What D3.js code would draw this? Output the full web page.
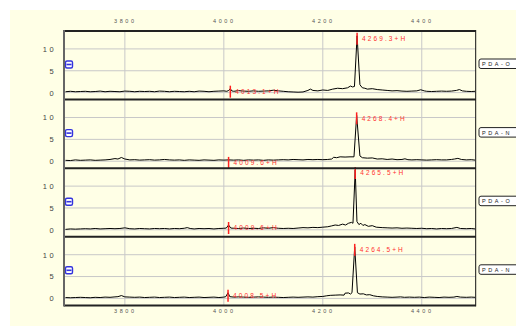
<!DOCTYPE html>
<html>
<head>
<meta charset="utf-8">
<script src="https://cdn.jsdelivr.net/npm/d3@7"></script>
<style>
  body { margin: 0; background: #fff; }
  text { font-family: "Liberation Sans", Arial, sans-serif; }
</style>
</head>
<body>
<div id="chart"></div>
<script>
// tick values
const massTicks = [3800, 4000, 4200, 4400];
const intensityTicks = [0, 5, 10];

// panel names shown in the boxes on the right
const panelNames = ['PDA-O', 'PDA-N', 'PDA-O', 'PDA-N'];

// spectra: [m/z, intensity]
const spectrum1 = [
  [3680, 0.2], [3690, 0.3], [3700, 0.2], [3710, 0.25], [3720, 0.3], [3730, 0.2], [3740, 0.25], [3750, 0.35],
  [3760, 0.2], [3770, 0.3], [3780, 0.25], [3790, 0.2], [3800, 0.35], [3810, 0.3], [3820, 0.2], [3830, 0.3],
  [3840, 0.25], [3850, 0.3], [3860, 0.2], [3870, 0.35], [3880, 0.3], [3890, 0.2], [3900, 0.3], [3910, 0.25],
  [3920, 0.2], [3930, 0.3], [3940, 0.2], [3950, 0.35], [3960, 0.3], [3970, 0.2], [3980, 0.3], [3990, 0.35],
  [4000, 0.4], [4006, 0.3], [4010, 0.5], [4013.1, 0.9], [4016, 0.4], [4020, 0.3], [4030, 0.45], [4040, 0.35],
  [4050, 0.3], [4060, 0.4], [4070, 0.3], [4080, 0.35], [4090, 0.4], [4100, 0.55], [4110, 0.4], [4120, 0.3],
  [4130, 0.2], [4140, 0.15], [4150, 0.1], [4160, 0.15], [4170, 0.5], [4175, 0.8], [4180, 0.5], [4190, 0.4],
  [4200, 0.6], [4210, 0.5], [4220, 0.8], [4230, 1.0], [4240, 0.9], [4250, 1.1], [4256, 1.5], [4260, 1.3],
  [4264, 1.4], [4269.3, 13.0], [4275, 1.8], [4280, 1.1], [4285, 1.0], [4290, 0.8], [4300, 0.9], [4310, 0.7],
  [4320, 0.6], [4330, 0.5], [4340, 0.4], [4350, 0.45], [4360, 0.35], [4370, 0.3], [4380, 0.35], [4390, 0.4],
  [4398, 0.65], [4405, 0.4], [4410, 0.3], [4420, 0.25], [4430, 0.3], [4440, 0.35], [4450, 0.3], [4460, 0.35],
  [4470, 0.5], [4476, 0.7], [4482, 0.4], [4490, 0.3], [4500, 0.25], [4508, 0.3],
];
const spectrum2 = [
  [3680, 0.2], [3690, 0.15], [3700, 0.3], [3710, 0.2], [3720, 0.25], [3730, 0.3], [3740, 0.2], [3750, 0.25],
  [3760, 0.3], [3770, 0.4], [3780, 0.6], [3786, 0.5], [3793, 0.85], [3800, 0.5], [3810, 0.3], [3820, 0.35],
  [3830, 0.25], [3840, 0.3], [3850, 0.35], [3860, 0.25], [3870, 0.3], [3880, 0.4], [3890, 0.3], [3900, 0.25],
  [3910, 0.3], [3920, 0.2], [3930, 0.3], [3940, 0.25], [3950, 0.2], [3960, 0.3], [3970, 0.25], [3980, 0.2],
  [3990, 0.3], [4000, 0.25], [4009.6, 0.3], [4020, 0.25], [4030, 0.3], [4040, 0.2], [4050, 0.3], [4060, 0.25],
  [4070, 0.3], [4080, 0.2], [4090, 0.3], [4100, 0.25], [4110, 0.3], [4120, 0.35], [4130, 0.3], [4140, 0.4],
  [4150, 0.35], [4160, 0.3], [4170, 0.4], [4180, 0.35], [4190, 0.4], [4200, 0.35], [4210, 0.4], [4218, 0.5],
  [4222, 0.9], [4228, 0.8], [4235, 1.0], [4245, 0.95], [4255, 1.0], [4263, 1.0], [4268.4, 10.5], [4275, 1.2],
  [4280, 0.8], [4290, 0.7], [4300, 0.75], [4310, 0.5], [4320, 0.55], [4330, 0.4], [4340, 0.5], [4350, 0.35],
  [4360, 0.4], [4366, 0.55], [4372, 0.35], [4380, 0.3], [4390, 0.35], [4400, 0.3], [4410, 0.25], [4420, 0.3],
  [4430, 0.35], [4440, 0.3], [4450, 0.3], [4460, 0.4], [4466, 0.5], [4473, 0.65], [4480, 0.4], [4490, 0.3],
  [4500, 0.35], [4508, 0.25],
];
const spectrum3 = [
  [3680, 0.1], [3690, 0.2], [3700, 0.15], [3710, 0.2], [3720, 0.25], [3730, 0.2], [3740, 0.3], [3750, 0.2],
  [3760, 0.25], [3770, 0.3], [3780, 0.25], [3790, 0.3], [3800, 0.45], [3810, 0.25], [3820, 0.2], [3830, 0.3],
  [3840, 0.25], [3850, 0.2], [3860, 0.3], [3870, 0.25], [3880, 0.3], [3890, 0.2], [3900, 0.3], [3910, 0.25],
  [3920, 0.35], [3926, 0.5], [3932, 0.3], [3940, 0.2], [3950, 0.3], [3960, 0.25], [3970, 0.3], [3980, 0.2],
  [3990, 0.3], [4000, 0.35], [4005, 0.4], [4009.6, 1.1], [4014, 0.4], [4020, 0.35], [4030, 0.3], [4040, 0.4],
  [4050, 0.3], [4060, 0.35], [4070, 0.3], [4080, 0.45], [4090, 0.35], [4100, 0.5], [4110, 0.35], [4120, 0.3],
  [4130, 0.35], [4140, 0.3], [4150, 0.4], [4160, 0.5], [4170, 0.45], [4180, 0.55], [4190, 0.5], [4200, 0.6],
  [4210, 0.7], [4218, 0.9], [4225, 1.1], [4232, 1.0], [4240, 1.3], [4246, 1.1], [4252, 1.5], [4258, 1.7],
  [4261, 1.5], [4265.5, 13.7], [4269, 1.9], [4273, 1.2], [4277, 1.5], [4281, 1.0], [4285, 1.2], [4292, 0.8],
  [4300, 0.95], [4308, 0.6], [4320, 0.5], [4330, 0.45], [4340, 0.4], [4350, 0.45], [4360, 0.35], [4370, 0.4],
  [4380, 0.35], [4390, 0.3], [4400, 0.35], [4410, 0.25], [4420, 0.3], [4430, 0.2], [4440, 0.3], [4450, 0.25],
  [4460, 0.3], [4471, 0.55], [4478, 0.3], [4490, 0.25], [4500, 0.3], [4508, 0.2],
];
const spectrum4 = [
  [3680, 0.2], [3690, 0.15], [3700, 0.2], [3710, 0.25], [3720, 0.2], [3730, 0.15], [3740, 0.25], [3750, 0.2],
  [3760, 0.3], [3770, 0.25], [3780, 0.35], [3786, 0.4], [3793, 0.65], [3800, 0.35], [3810, 0.3], [3820, 0.25],
  [3830, 0.3], [3840, 0.2], [3850, 0.25], [3860, 0.3], [3870, 0.2], [3880, 0.25], [3890, 0.3], [3900, 0.2],
  [3910, 0.25], [3920, 0.3], [3930, 0.2], [3940, 0.25], [3950, 0.3], [3960, 0.2], [3970, 0.25], [3980, 0.3],
  [3990, 0.2], [4000, 0.3], [4004, 0.4], [4008.5, 1.3], [4012, 0.4], [4020, 0.3], [4030, 0.35], [4040, 0.3],
  [4050, 0.25], [4060, 0.3], [4070, 0.35], [4080, 0.3], [4090, 0.25], [4100, 0.3], [4110, 0.25], [4120, 0.2],
  [4130, 0.25], [4140, 0.3], [4150, 0.25], [4160, 0.3], [4170, 0.35], [4180, 0.3], [4190, 0.4], [4200, 0.45],
  [4208, 0.6], [4215, 0.7], [4225, 0.75], [4235, 0.8], [4243, 0.75], [4245, 1.2], [4252, 1.25], [4256, 1.0],
  [4259, 1.3], [4264.5, 11.8], [4270, 1.3], [4275, 1.0], [4282, 1.05], [4288, 0.8], [4295, 0.85], [4302, 0.6],
  [4310, 0.45], [4320, 0.35], [4330, 0.3], [4340, 0.25], [4350, 0.3], [4357, 0.35], [4365, 0.25], [4375, 0.3],
  [4385, 0.25], [4395, 0.3], [4405, 0.2], [4415, 0.3], [4425, 0.25], [4435, 0.2], [4445, 0.3], [4455, 0.25],
  [4465, 0.3], [4471, 0.45], [4478, 0.3], [4490, 0.25], [4500, 0.3], [4508, 0.25],
];

// annotated peaks: [m/z, intensity, label]
const peaks1 = [[4013.1, 0.9, '4013.1+H'], [4269.3, 13.0, '4269.3+H']];
const peaks2 = [[4009.6, 0.3, '4009.6+H'], [4268.4, 10.5, '4268.4+H']];
const peaks3 = [[4009.6, 1.1, '4009.6+H'], [4265.5, 13.7, '4265.5+H']];
const peaks4 = [[4008.5, 1.3, '4008.5+H'], [4264.5, 11.8, '4264.5+H']];

const spectra = [spectrum1, spectrum2, spectrum3, spectrum4];
const peaks = [peaks1, peaks2, peaks3, peaks4];

const chartW = 516;
const chartH = 329;
const plotLeft = 64;
const plotRight = 475.7;
const plotTop = 31;
const panelH = 68.6;

const svg = d3.select('#chart').append('svg')
  .attr('width', chartW)
  .attr('height', chartH);

// yellow page background
svg.append('rect')
  .attr('x', 10).attr('y', 10)
  .attr('width', chartW - 10).attr('height', 316)
  .attr('fill', '#ffffe6');

const x = d3.scaleLinear().domain([3677, 4509]).range([plotLeft, plotRight]);

svg.append('clipPath').attr('id', 'plotclip')
  .append('rect')
  .attr('x', plotLeft).attr('y', plotTop)
  .attr('width', plotRight - plotLeft).attr('height', panelH * 4);

// top and bottom m/z axes
const topAxis = svg.append('g')
  .attr('transform', `translate(0, ${plotTop})`)
  .call(d3.axisTop(x).tickValues(massTicks).tickSize(0).tickPadding(8).tickFormat(d3.format('d')));
const bottomAxis = svg.append('g')
  .attr('transform', `translate(0, ${plotTop + panelH * 4})`)
  .call(d3.axisBottom(x).tickValues(massTicks).tickSize(0).tickPadding(4).tickFormat(d3.format('d')));
[topAxis, bottomAxis].forEach((g) => {
  g.select('.domain').remove();
  g.selectAll('text')
    .style('font-size', '5.5px')
    .style('letter-spacing', '2.6px')
    .style('font-family', '"Liberation Sans", Arial, sans-serif')
    .attr('fill', '#555');
});

const line = d3.line()
  .x((d) => x(d[0]));

spectra.forEach((data, i) => {
  const y0 = plotTop + panelH * i;
  const y = d3.scaleLinear().domain([-1.6, 14.1]).range([y0 + panelH, y0]);
  const g = svg.append('g');

  // grid
  g.selectAll('.hgrid').data(intensityTicks).enter().append('line')
    .attr('x1', plotLeft).attr('x2', plotRight)
    .attr('y1', (d) => y(d)).attr('y2', (d) => y(d))
    .attr('stroke', '#c8c8c8').attr('stroke-width', 1);
  g.selectAll('.vgrid').data(massTicks).enter().append('line')
    .attr('x1', (d) => x(d)).attr('x2', (d) => x(d))
    .attr('y1', y0).attr('y2', y0 + panelH)
    .attr('stroke', '#c8c8c8').attr('stroke-width', 1);

  // intensity axis labels
  const yAxis = g.append('g')
    .attr('transform', `translate(${plotLeft}, 0)`)
    .call(d3.axisLeft(y).tickValues(intensityTicks).tickSize(0).tickPadding(8));
  yAxis.select('.domain').remove();
  yAxis.selectAll('text')
    .style('font-size', '7.5px')
    .style('letter-spacing', '2.4px')
    .style('font-family', '"Liberation Sans", Arial, sans-serif')
    .attr('fill', '#444');

  // spectrum trace
  g.append('path')
    .datum(data)
    .attr('clip-path', 'url(#plotclip)')
    .attr('fill', 'none')
    .attr('stroke', '#000')
    .attr('stroke-width', 1)
    .attr('stroke-linejoin', 'round')
    .attr('d', line.y((d) => y(d[1])));

  // peak annotations
  peaks[i].forEach((p) => {
    const px = x(p[0]);
    const py = y(p[1]);
    g.append('line')
      .attr('x1', px).attr('x2', px)
      .attr('y1', py - 3).attr('y2', py + 9)
      .attr('stroke', '#ff2020').attr('stroke-width', 1.5);
    g.append('text')
      .attr('x', px + 5)
      .attr('y', py + 5.3)
      .style('font-size', '6.5px')
      .style('letter-spacing', '2.1px')
      .attr('fill', '#ff3030')
      .text(p[2]);
  });

  // blue icon
  const ix = plotLeft + 1.5;
  const iy = y0 + 30;
  g.append('rect')
    .attr('x', ix).attr('y', iy)
    .attr('width', 7).attr('height', 7)
    .attr('rx', 1.5)
    .attr('fill', '#fff')
    .attr('stroke', '#3333dd').attr('stroke-width', 1.4);
  g.append('line')
    .attr('x1', ix + 1).attr('x2', ix + 6)
    .attr('y1', iy + 3.5).attr('y2', iy + 3.5)
    .attr('stroke', '#3333dd').attr('stroke-width', 1.6);

  // name box at right
  g.append('rect')
    .attr('x', 479).attr('y', y0 + 28)
    .attr('width', 50).attr('height', 9.5)
    .attr('rx', 2)
    .attr('fill', '#fff')
    .attr('stroke', '#222').attr('stroke-width', 1);
  g.append('text')
    .attr('x', 482).attr('y', y0 + 35)
    .style('font-size', '5.5px')
    .style('letter-spacing', '2.6px')
    .attr('fill', '#222')
    .text(panelNames[i]);
});

// frame
const frame = svg.append('g');
d3.range(5).forEach((k) => {
  frame.append('line')
    .attr('x1', plotLeft).attr('x2', plotRight)
    .attr('y1', plotTop + panelH * k).attr('y2', plotTop + panelH * k)
    .attr('stroke', '#222').attr('stroke-width', 2);
});
frame.append('line')
  .attr('x1', plotLeft).attr('x2', plotLeft)
  .attr('y1', plotTop - 1).attr('y2', plotTop + panelH * 4 + 1)
  .attr('stroke', '#666').attr('stroke-width', 2);
frame.append('line')
  .attr('x1', plotRight).attr('x2', plotRight)
  .attr('y1', plotTop - 1).attr('y2', plotTop + panelH * 4 + 1)
  .attr('stroke', '#111').attr('stroke-width', 1);
</script>
</body>
</html>
